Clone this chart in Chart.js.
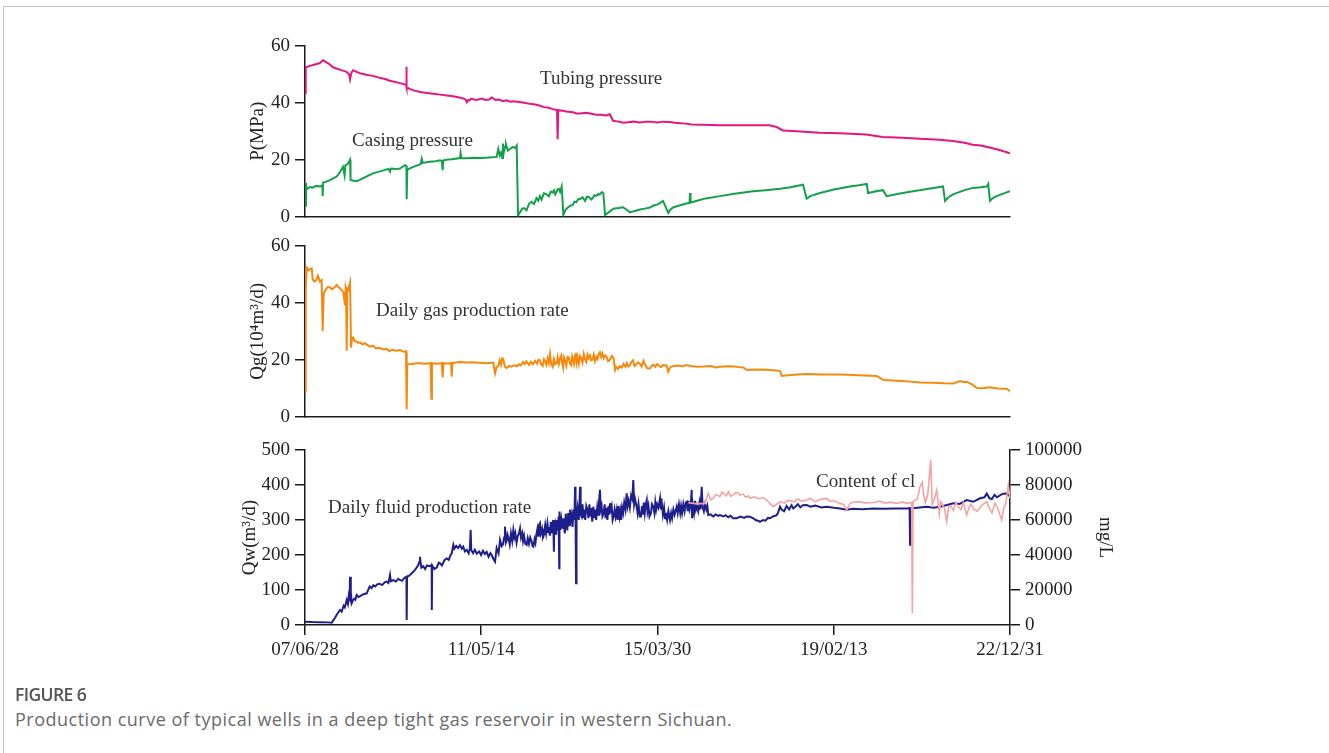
<!DOCTYPE html>
<html>
<head>
<meta charset="utf-8">
<script src="https://cdn.jsdelivr.net/npm/chart.js@4.4.0/dist/chart.umd.min.js"></script>
<style>
  html, body { margin: 0; padding: 0; background: #fff; }
  body { width: 1329px; height: 753px; position: relative; overflow: hidden; }
  .frame { position: absolute; left: 3px; top: 6px; right: -2px; bottom: -2px;
           border-top: 1px solid #c6c6c6; border-left: 1px solid #c6c6c6; }
  canvas.panel { position: absolute; left: 0; }
  .cap-title { position: absolute; left: 15px; top: 682px; font: 600 17.5px "Open Sans", sans-serif; color: #555; letter-spacing: -0.6px; }
  .cap-text { position: absolute; left: 15px; top: 707px; font: 18px "Open Sans", sans-serif; color: #6a6a6a; letter-spacing: 0.5px; }
</style>
</head>
<body>
<div class="frame"></div>
<canvas id="pressure" class="panel" width="1329" height="207" style="top:26px"></canvas>
<canvas id="gas" class="panel" width="1329" height="207" style="top:226px"></canvas>
<canvas id="fluid" class="panel" width="1329" height="260" style="top:430px"></canvas>
<div class="cap-title">FIGURE 6</div>
<div class="cap-text">Production curve of typical wells in a deep tight gas reservoir in western Sichuan.</div>

<script>
// Time axis: days counted from 2007-06-28
const tickDays = [0, 1416, 2832, 4248, 5665];
const tickLabels = ['07/06/28', '11/05/14', '15/03/30', '19/02/13', '22/12/31'];

// [day, MPa]
const tubingPressure = [
  [0,43.5],[6,52.5],[40,53],[80,53.5],[120,54],[145,55],[170,54.3],[200,53.5],[225,52.5],[260,52],
  [290,51.5],[330,51],[355,50],[362,48.3],[372,50.5],[386,51.5],[420,50.8],[450,50.3],[500,49.8],[547,49.5],
  [600,48.8],[650,48.3],[680,47.8],[740,47.2],[800,46.5],[812,46.3],[814,52.7],[818,45.5],[840,44.9],[880,44.3],
  [925,43.8],[980,43.5],[1030,43.2],[1085,42.9],[1140,42.6],[1190,42.3],[1250,41.8],[1275,41.5],[1290,41.2],[1300,40.2],
  [1310,41.0],[1320,40.8],[1335,41.4],[1350,41.3],[1380,41.0],[1420,41.5],[1450,41.0],[1480,41.2],[1500,41.9],[1510,41.7],
  [1530,41.0],[1560,41.2],[1590,40.6],[1620,40.9],[1650,40.4],[1680,40.6],[1750,40.1],[1780,39.9],[1820,39.6],[1850,39.4],
  [1890,39.0],[1920,38.5],[1960,38.3],[1990,37.8],[2025,37.5],[2030,27.2],[2035,37.4],[2070,37.2],[2100,37.0],[2155,36.7],
  [2180,36.3],[2210,36.3],[2260,36.5],[2300,36.2],[2340,35.8],[2380,35.8],[2420,35.6],[2450,36.0],[2475,33.7],[2520,33.4],
  [2560,33.0],[2600,33.2],[2640,33.4],[2690,33.1],[2740,33.4],[2780,33.4],[2830,33.1],[2880,33.4],[2930,33.3],[2970,33.0],
  [3020,32.8],[3060,32.7],[3110,32.4],[3200,32.3],[3330,32.1],[3500,32.1],[3650,32.1],[3730,32.1],[3790,31.5],[3840,30.3],
  [3950,30.0],[4135,29.5],[4300,29.3],[4510,28.9],[4640,28.0],[4800,27.7],[4940,27.4],[5100,27.0],[5205,26.6],[5300,26.0],
  [5365,25.3],[5430,25.0],[5500,24.3],[5580,23.4],[5665,22.3]
];

// [day, MPa]
const casingPressure = [
  [0,3.8],[8,11.8],[14,9.6],[40,10.4],[60,10.2],[90,10.8],[121,10.6],[140,11],[142,7.2],[146,12],
  [170,12.3],[200,12.8],[230,13.5],[255,14.1],[280,15.6],[305,17.5],[318,14.5],[324,18],[345,18.6],[362,20.0],
  [366,12.9],[390,12.6],[420,12.5],[480,13.8],[546,15.2],[610,16.0],[670,16.8],[683,15.8],[690,16.9],[730,16.7],
  [763,16.9],[804,18.1],[815,17.8],[817,6.1],[822,16.5],[860,17.3],[908,18.1],[930,18.5],[938,20.3],[946,18.9],
  [1000,19.3],[1050,19.5],[1085,19.8],[1100,19.5],[1106,16.3],[1112,19.8],[1150,20.1],[1179,20.2],[1245,20.6],[1250,22.3],
  [1256,20.6],[1300,20.5],[1350,20.7],[1420,20.6],[1480,20.8],[1540,21],[1553,23.8],[1565,21.5],[1575,22.5],[1585,20.6],
  [1591,25.7],[1600,23],[1608,24.5],[1615,25.4],[1630,23.2],[1647,23.8],[1670,24.5],[1690,24.1],[1701,24.9],[1712,0.3],
  [1728,1.5],[1745,2.8],[1760,3.0],[1780,2.2],[1800,4.5],[1820,5.2],[1840,4.4],[1860,6.5],[1875,5.6],[1888,7.2],
  [1900,6.0],[1920,8.2],[1942,7.8],[1960,7.1],[1975,8.8],[1990,8.5],[2000,9.2],[2010,7.8],[2023,8.9],[2030,9.6],
  [2040,9.8],[2050,8.7],[2063,10.6],[2076,0.6],[2095,2.5],[2113,3.2],[2130,3.8],[2150,4.0],[2165,5.2],[2180,5.0],
  [2195,6.2],[2210,6.1],[2230,6.8],[2250,5.5],[2265,6.9],[2280,7.0],[2300,6.0],[2314,6.6],[2325,7.5],[2340,7.3],
  [2355,7.9],[2370,7.8],[2385,8.6],[2397,8.3],[2411,0.6],[2440,1.5],[2477,2.8],[2520,3.0],[2555,3.3],[2585,2.4],
  [2612,1.5],[2650,2.0],[2692,2.5],[2730,2.8],[2772,3.2],[2800,3.9],[2830,4.2],[2860,5.0],[2877,5.5],[2919,1.3],
  [2935,2.4],[2957,3.2],[3000,3.8],[3050,4.4],[3090,4.9],[3094,8.3],[3098,4.9],[3150,5.6],[3220,6.4],[3335,7.2],
  [3450,8.0],[3600,8.9],[3700,9.3],[3817,9.8],[3900,10.3],[4002,11.2],[4031,6.3],[4060,7.2],[4138,8.3],[4250,9.5],
  [4379,10.6],[4450,11.0],[4514,11.5],[4524,8.3],[4600,9.0],[4644,9.3],[4673,7.2],[4780,8.1],[4886,8.9],[5000,9.7],
  [5127,10.6],[5143,5.5],[5170,6.8],[5207,7.8],[5300,9.3],[5368,10.1],[5430,10.3],[5478,10.6],[5490,11.5],[5504,5.5],
  [5530,6.6],[5558,7.2],[5610,8.1],[5665,8.9]
];

// [day, 10^4 m3/d]
const gasRate = [
  [0,8.9],[4,52.4],[8,44.9],[14,52.4],[30,51.5],[54,52.1],[62,48.3],[75,47.5],[90,48.0],[104,49.5],
  [120,47.5],[134,48],[142,30.1],[150,43.2],[165,44.5],[180,45.5],[201,45.5],[215,44.8],[230,45.2],[245,45.8],
  [255,46.3],[270,45.5],[280,45.2],[295,44.5],[308,43.8],[321,39.2],[326,45],[330,44],[335,23.2],[340,45],
  [350,44.5],[355,46],[362,47.2],[370,24.3],[378,27.5],[388,27.8],[398,26.5],[410,26.5],[425,26.0],[442,26.1],
  [460,25.4],[480,25.8],[500,25.2],[520,24.6],[549,24.9],[570,24.0],[600,24.2],[630,23.6],[656,23.8],[680,23.0],
  [700,23.6],[730,23.2],[763,23.4],[790,22.8],[812,23.0],[817,2.6],[822,18.4],[860,18.5],[900,18.8],[924,18.8],
  [960,18.6],[1010,18.8],[1015,6.3],[1020,18.8],[1060,18.6],[1100,18.8],[1106,13.8],[1112,18.8],[1140,18.7],[1174,18.8],
  [1179,14],[1184,18.8],[1210,19.0],[1245,19.2],[1300,19.0],[1350,19.1],[1400,18.9],[1460,18.8],[1513,19.0],[1520,17],
  [1527,15.2],[1540,17.5],[1553,17.7],[1565,19.8],[1575,18.2],[1585,20.5],[1593,20.3],[1605,17.6],[1620,17.1],[1640,17.8],
  [1660,17.6],[1680,18.0],[1701,17.7],[1720,18.4],[1735,18.0],[1752,19.2],[1765,18.5],[1780,19.4],[1800,18.2],[1815,19.3],
  [1830,18.4],[1850,19.6],[1865,18.6],[1875,20.0],[1888,19.8],[1898,18.3],[1910,17.8],[1920,20.2],[1930,19.5],[1940,18.2],
  [1950,20.5],[1960,18.8],[1969,22],[1978,18.5],[1990,17.5],[2000,20.2],[2010,18.4],[2023,18.8],[2030,20.9],[2040,18.5],
  [2050,20.5],[2060,21.5],[2068,18.6],[2075,17.2],[2082,20.8],[2090,19.8],[2100,18.0],[2110,21.0],[2120,20.8],[2130,18.5],
  [2140,18.0],[2147,21.2],[2154,20.3],[2162,18.6],[2170,21.5],[2175,22.4],[2182,19.0],[2190,21.0],[2200,18.5],[2210,21.3],
  [2220,20.5],[2230,19.0],[2240,22],[2250,20.0],[2260,19.2],[2270,21.8],[2280,20.5],[2290,21.5],[2300,19.8],[2310,20.0],
  [2320,21.8],[2330,19.5],[2340,21.0],[2350,20.2],[2360,22.0],[2370,22.6],[2380,21.0],[2390,22.2],[2400,20.5],[2412,21.5],
  [2424,21],[2435,19.5],[2450,20.0],[2465,21.3],[2480,20.5],[2491,16.4],[2500,17.5],[2515,16.8],[2530,17.8],[2545,17.2],
  [2560,18.5],[2575,17.5],[2585,18.8],[2598,17.6],[2610,18.0],[2622,19.2],[2636,19.8],[2648,17.8],[2660,18.2],[2675,19.0],
  [2692,18.6],[2705,17.6],[2720,19.6],[2735,18.0],[2750,17.0],[2772,16.9],[2785,17.8],[2800,18.3],[2815,17.5],[2830,18.5],
  [2845,17.8],[2860,17.4],[2879,18.1],[2905,18.0],[2919,15.8],[2930,17.0],[2940,17.5],[2970,17.8],[3000,18.0],[3030,17.6],
  [3067,18.1],[3100,17.8],[3150,17.5],[3200,17.6],[3260,17.8],[3300,17.3],[3335,17.5],[3400,17.7],[3450,17.6],[3490,17.4],
  [3522,17.3],[3549,16.4],[3620,16.6],[3700,16.5],[3760,16.3],[3817,16.1],[3831,14.3],[3900,14.6],[3960,14.8],[4031,15.0],
  [4150,14.8],[4300,14.8],[4450,14.5],[4594,14.3],[4647,12.9],[4720,12.7],[4800,12.5],[4861,12.3],[4950,12.0],[5050,11.9],
  [5130,11.7],[5209,11.6],[5263,12.5],[5290,12.2],[5320,12.2],[5360,11.3],[5397,10.1],[5450,10.0],[5500,10.3],[5570,9.9],
  [5638,9.8],[5665,8.9]
];

// [day, m3/d]
const fluidRate = [
  [0,9.5],[60,8.5],[120,8],[180,7.5],[215,6.7],[240,20],[260,32],[281,42.9],[295,38],[310,55],
  [320,50],[335,71.4],[345,60],[352,85],[358,78],[362,138],[368,95],[375,62],[385,70],[395,75],
  [405,72],[415,85.7],[430,80],[450,84],[470,88],[496,90.5],[505,98],[520,110],[535,105],[549,114],
  [565,110],[580,116],[600,118],[620,114],[640,122],[656,124],[670,120],[683,143],[690,125],[710,128],
  [730,124],[750,132],[763,128.6],[780,126],[800,135],[815,138],[817,14.3],[820,138],[835,140],[850,145],
  [870,152],[890,160],[910,171],[918,180],[924,195],[930,175],[935,164],[950,168],[965,160],[980,170],
  [1000,168],[1018,171],[1019,42.9],[1022,170],[1040,160],[1060,165],[1075,178],[1085,176],[1100,170],[1120,185],
  [1139,190],[1155,186],[1170,200],[1179,205],[1192,229],[1200,218],[1215,226],[1230,220],[1245,228],[1260,218],
  [1272,224],[1285,210],[1300,215],[1315,205],[1325,218],[1331,271],[1336,214],[1350,205],[1365,215],[1380,204],
  [1400,210],[1415,200],[1430,212],[1445,203],[1460,209],[1475,195],[1490,205],[1500,200],[1515,188],[1527,181],
  [1540,220],[1555,205],[1567,243],[1580,225],[1590,230],[1600,250],[1607,281],[1614,235],[1620,240],[1627,258],
  [1634,250],[1645,230],[1655,262],[1665,240],[1674,271],[1682,250],[1690,262],[1700,235],[1710,255],[1720,262],
  [1728,276],[1736,250],[1745,262],[1752,240],[1760,255],[1770,232],[1781,229],[1790,248],[1800,232],[1810,250],
  [1820,240],[1828,226],[1835,224],[1845,245],[1852,235],[1860,260],[1868,275],[1875,255],[1880,285],[1888,291],
  [1895,262],[1905,275],[1912,250],[1920,257],[1930,285],[1938,262],[1948,290],[1955,265],[1960,280],[1968,255],
  [1975,295],[1982,262],[1988,285],[1995,300],[2000,209],[2003,280],[2010,290],[2018,258],[2025,300],[2032,270],
  [2038,310],[2043,162],[2045,324],[2052,272],[2060,300],[2068,275],[2075,305],[2080,286],[2088,262],[2095,318],
  [2100,300],[2108,270],[2115,320],[2122,285],[2129,329],[2136,290],[2143,310],[2150,280],[2158,330],[2165,300],
  [2170,395],[2174,305],[2178,119],[2182,310],[2190,335],[2200,300],[2205,340],[2210,395],[2215,315],[2223,309],
  [2230,345],[2238,305],[2245,330],[2252,300],[2260,340],[2270,329],[2278,305],[2285,345],[2292,310],[2300,335],
  [2308,295],[2317,338],[2325,305],[2332,330],[2340,300],[2348,335],[2355,315],[2362,350],[2370,386],[2376,330],
  [2383,340],[2390,310],[2400,319],[2408,345],[2415,305],[2422,335],[2430,300],[2438,340],[2445,315],[2451,348],
  [2458,320],[2465,335],[2472,300],[2480,310],[2488,330],[2496,310],[2505,329],[2512,300],[2520,340],[2528,310],
  [2535,325],[2540,300],[2548,335],[2556,320],[2565,350],[2575,330],[2585,376],[2592,340],[2600,355],[2610,335],
  [2620,370],[2630,360],[2638,414],[2645,345],[2652,360],[2665,338],[2672,320],[2680,345],[2690,310],[2700,310],
  [2708,340],[2715,315],[2722,350],[2730,320],[2738,345],[2746,357],[2752,325],[2760,340],[2768,310],[2780,320],
  [2788,345],[2799,338],[2808,320],[2815,350],[2822,330],[2830,345],[2840,335],[2853,362],[2860,330],[2868,345],
  [2876,315],[2885,335],[2893,305],[2900,320],[2910,300],[2920,325],[2933,300],[2942,320],[2950,305],[2960,330],
  [2970,315],[2987,338],[2995,320],[3005,345],[3015,320],[3022,340],[3030,320],[3040,345],[3050,325],[3060,350],
  [3067,352],[3075,325],[3082,355],[3090,330],[3100,345],[3107,386],[3110,305],[3118,340],[3126,320],[3135,355],
  [3142,330],[3150,340],[3160,325],[3170,350],[3178,330],[3188,395],[3195,338],[3205,325],[3215,345],[3225,330],
  [3233,340],[3241,314],[3260,316],[3280,310],[3300,316],[3320,312],[3335,314],[3360,310],[3380,314],[3400,308],
  [3420,312],[3440,305],[3469,305],[3500,310],[3530,306],[3550,310],[3576,309],[3602,305],[3620,300],[3640,298],
  [3656,295],[3680,300],[3700,298],[3720,306],[3737,305],[3760,310],[3790,314],[3800,320],[3817,338],[3830,330],
  [3850,325],[3870,340],[3890,330],[3910,342],[3924,333],[3940,338],[3960,345],[3980,336],[4000,342],[4031,343],
  [4060,338],[4100,341],[4150,336],[4192,338],[4250,335],[4300,333],[4353,329],[4400,332],[4480,331],[4567,333],
  [4650,332],[4750,333],[4835,333],[4858,334],[4862,229],[4866,333],[4940,336],[4996,338],[5050,335],[5103,338],
  [5150,342],[5209,348],[5260,346],[5317,357],[5370,352],[5424,362],[5460,365],[5478,376],[5500,362],[5520,360],
  [5540,372],[5560,365],[5600,374],[5638,376],[5665,367]
];

// [day, mg/L]
const chlorideContent = [
  [3080,69900],[3150,69200],[3214,69500],[3241,75250],[3260,71500],[3280,72500],[3300,74500],[3335,73400],[3350,76000],[3370,75000],
  [3385,73800],[3402,76200],[3420,73500],[3440,74300],[3460,75800],[3480,75500],[3496,74300],[3520,74800],[3540,73000],[3560,73800],
  [3576,72400],[3610,73200],[3650,72000],[3680,72800],[3710,71400],[3735,69500],[3763,67600],[3790,69000],[3817,70500],[3850,69600],
  [3880,71200],[3900,71000],[3930,70300],[3960,72000],[3990,70800],[4031,71400],[4060,72300],[4100,70500],[4140,71800],[4192,72400],
  [4220,70600],[4250,71000],[4275,70200],[4299,69500],[4330,68800],[4353,65700],[4380,69500],[4410,70300],[4450,70500],[4500,69800],
  [4567,70000],[4620,70800],[4660,69600],[4700,70200],[4760,69500],[4800,70400],[4835,69500],[4875,70000],[4880,6700],[4886,70500],
  [4920,72000],[4942,79000],[4960,81500],[4972,74000],[4985,70000],[5005,75000],[5028,94300],[5040,69000],[5058,72000],[5076,77100],
  [5088,70000],[5097,63800],[5108,70500],[5120,69000],[5140,66500],[5156,59000],[5172,67500],[5190,68000],[5210,65500],[5230,70000],
  [5250,67500],[5270,66000],[5290,69800],[5317,62850],[5335,67000],[5350,69000],[5375,66000],[5400,65000],[5440,68500],[5478,70500],
  [5500,66500],[5520,64000],[5545,69500],[5570,66000],[5598,60000],[5615,67000],[5630,69000],[5651,80000],[5665,72400]
];

const SERIF = '"Liberation Serif", "Times New Roman", serif';
const INK = '#222';
const AXIS = '#1a1a1a';

const toPoints = arr => arr.map(([x, y]) => ({ x, y }));

// Free-standing series names placed in data coordinates
const notesPlugin = {
  id: 'notes',
  afterDatasetsDraw(chart, args, opts) {
    const ctx = chart.ctx;
    ctx.save();
    ctx.font = '19px ' + SERIF;
    ctx.fillStyle = '#333';
    ctx.textBaseline = 'middle';
    ctx.textAlign = 'left';
    for (const n of (opts.items || [])) {
      const x = chart.scales.x.getPixelForValue(n.day);
      const y = chart.scales[n.axis].getPixelForValue(n.value);
      ctx.fillText(n.text, x, y);
    }
    ctx.restore();
  }
};

function yAxis(title, max, step, width, position) {
  return {
    type: 'linear',
    position: position || 'left',
    min: 0, max: max,
    afterFit(s) { s.width = width; },
    border: { display: true, color: AXIS, width: 1.5 },
    grid: { drawOnChartArea: false, drawTicks: true, tickLength: 10, color: AXIS, lineWidth: 1.5 },
    ticks: { stepSize: step, padding: 5, color: INK, font: { family: SERIF, size: 19 },
             callback: v => String(v) },
    title: { display: !!title, text: title, color: INK, padding: 0,
             font: { family: SERIF, size: 19 } }
  };
}

function xAxis(withLabels, height) {
  return {
    type: 'linear',
    min: 0, max: 5665,
    afterFit(s) { s.height = height; },
    afterBuildTicks(s) { s.ticks = tickDays.map(v => ({ value: v })); },
    border: { display: true, color: AXIS, width: 1.5 },
    grid: { display: withLabels, drawOnChartArea: false, drawTicks: true, tickLength: 10, color: AXIS, lineWidth: 1.5 },
    ticks: { display: withLabels, autoSkip: false, maxRotation: 0, padding: 4, color: INK,
             font: { family: SERIF, size: 19 },
             callback: (v, i) => tickLabels[i] }
  };
}

function series(data, color, width, axis) {
  return { data: toPoints(data), borderColor: color, borderWidth: width, pointRadius: 0,
           tension: 0, fill: false, yAxisID: axis || 'y' };
}

const common = {
  responsive: false,
  animation: false,
  devicePixelRatio: 1,
  events: [],
  plugins: { legend: { display: false }, tooltip: { enabled: false } }
};

new Chart(document.getElementById('pressure'), {
  type: 'line',
  data: { datasets: [
    series(tubingPressure, '#e6157f', 2),
    series(casingPressure, '#14a04a', 2)
  ] },
  options: Object.assign({}, common, {
    layout: { padding: { top: 20, left: 247, right: 319, bottom: 0 } },
    scales: { x: xAxis(false, 12), y: yAxis('P(MPa)', 60, 20, 58) },
    plugins: Object.assign({}, common.plugins, { notes: { items: [
      { text: 'Tubing pressure', day: 1888, value: 48.3, axis: 'y' },
      { text: 'Casing pressure', day: 378, value: 26.7, axis: 'y' }
    ] } })
  }),
  plugins: [notesPlugin]
});

new Chart(document.getElementById('gas'), {
  type: 'line',
  data: { datasets: [ series(gasRate, '#f5890f', 2) ] },
  options: Object.assign({}, common, {
    layout: { padding: { top: 20, left: 247, right: 319, bottom: 0 } },
    scales: { x: xAxis(false, 12), y: yAxis('Qg(10\u2074m\u00b3/d)', 60, 20, 58) },
    plugins: Object.assign({}, common.plugins, { notes: { items: [
      { text: 'Daily gas production rate', day: 571, value: 37.0, axis: 'y' }
    ] } })
  }),
  plugins: [notesPlugin]
});

new Chart(document.getElementById('fluid'), {
  type: 'line',
  data: { datasets: [
    series(chlorideContent, '#f4a3a3', 1.6, 'y2'),
    series(fluidRate, '#1f1f8c', 2)
  ] },
  options: Object.assign({}, common, {
    layout: { padding: { top: 20, left: 239, right: 213, bottom: 0 } },
    scales: {
      x: xAxis(true, 65),
      y: yAxis('Qw(m\u00b3/d)', 500, 100, 66),
      y2: yAxis('mg/L', 100000, 20000, 106, 'right')
    },
    plugins: Object.assign({}, common.plugins, { notes: { items: [
      { text: 'Daily fluid production rate', day: 185, value: 334, axis: 'y' },
      { text: 'Content of cl', day: 4106, value: 81700, axis: 'y2' }
    ] } })
  }),
  plugins: [notesPlugin]
});
</script>
</body>
</html>
